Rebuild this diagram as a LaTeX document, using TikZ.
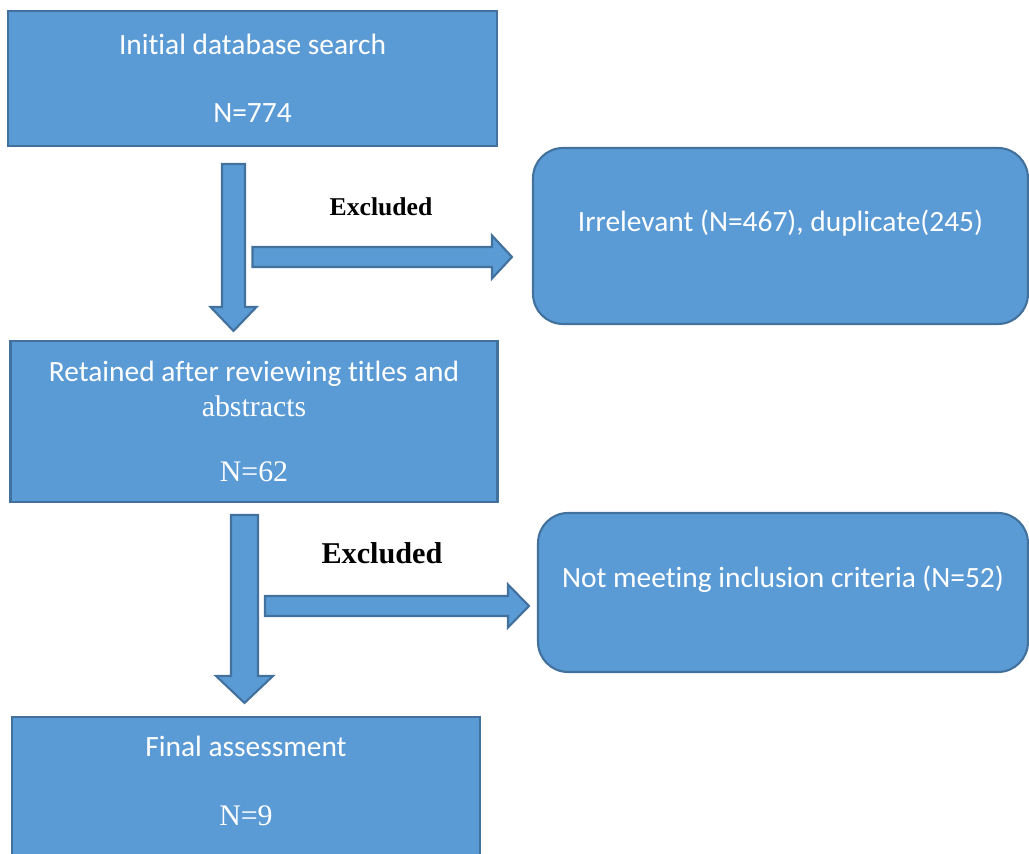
\documentclass[tikz,border=0pt]{standalone}
\usepackage{fontspec}
\setmainfont{Liberation Serif}
\newfontfamily\calibfont[Ligatures=NoCommon]{Carlito}
\newcommand{\serifpart}{\rmfamily\fontsize{17}{20}\selectfont}
\usetikzlibrary{calc}
\definecolor{boxfill}{RGB}{91,155,213}
\definecolor{boxline}{RGB}{65,113,156}

\begin{document}
\begin{tikzpicture}[
    x=0.02cm, y=-0.02cm,
    every node/.style={font=\calibfont\fontsize{16.75}{20}\selectfont},
    stagebox/.style={rectangle, draw=boxline, fill=boxfill, line width=1.2pt,
        text=white, align=center, inner sep=0pt},
    excludebox/.style={stagebox, rounded corners=0.6cm,
        text height=0.44cm, text depth=0.62cm},
    blockarrow/.style={draw=boxline, fill=boxfill, line width=1.2pt},
    exlabel/.style={font=\rmfamily\bfseries\fontsize{14.6}{17}\selectfont},
]
\useasboundingbox (0,0) rectangle (1029,854);

% === STAGES (left column) ===
\node[stagebox, minimum width=9.78cm, minimum height=2.7cm] (init) at (252.5,78.5)
    {Initial database search\\[0.66cm]N=774};
\node[stagebox, minimum width=9.74cm, minimum height=3.22cm] (ret) at (254,421.5)
    {Retained after reviewing titles and\\{\serifpart abstracts}\\[0.6cm]{\serifpart N=62}};
\node[stagebox, minimum width=9.36cm, minimum height=2.9cm, text depth=0.35cm] (final) at (246,789.5)
    {Final assessment\\[0.66cm]{\serifpart N=9}};

% === EXCLUSIONS (right column) ===
\node[excludebox, minimum width=9.9cm, minimum height=3.52cm] (irr) at (780.5,236)
    {Irrelevant (N=467), duplicate(245)};
\node[excludebox, minimum width=9.8cm, minimum height=3.18cm] (notmeet) at (783,592.5)
    {Not meeting inclusion criteria (N=52)};

% === BLOCK ARROWS ===
\coordinate (d1s) at ($(init.south)+(-19,17)$);
\coordinate (d1e) at ($(ret.north)+(-20.5,-9)$);
\coordinate (h1e) at ($(irr.west)+(-20,21)$);
\coordinate (h1s) at (init.south |- h1e);
\coordinate (d2s) at ($(ret.south)+(-9.5,12)$);
\coordinate (d2e) at ($(final.north)+(-1.5,-13)$);
\coordinate (h2e) at ($(notmeet.west)+(-8,13.5)$);
\coordinate (h2s) at ($(ret.south |- h2e)+(11,0)$);

% first screening
\draw[blockarrow] ($(d1s)+(-11.5,0)$) -- ($(d1s)+(11.5,0)$) -- ($(d1e)+(11.5,-24)$)
    -- ++(11.5,0) -- (d1e) -- ++(-23,-24) -- ++(11.5,0) -- cycle;
\draw[blockarrow] ($(h1s)+(0,-10)$) -- ($(h1e)+(-20,-10)$) -- ++(0,-11.5)
    -- (h1e) -- ++(-20,21.5) -- ++(0,-11.5) -- ($(h1s)+(0,10)$) -- cycle;

% second screening
\draw[blockarrow] ($(d2s)+(-13.5,0)$) -- ($(d2s)+(13.5,0)$) -- ($(d2e)+(13.5,-27)$)
    -- ++(15,0) -- (d2e) -- ++(-28.5,-27) -- ++(15,0) -- cycle;
\draw[blockarrow] ($(h2s)+(0,-10)$) -- ($(h2e)+(-21,-10)$) -- ++(0,-11.5)
    -- (h2e) -- ++(-21,21.5) -- ++(0,-11.5) -- ($(h2s)+(0,10)$) -- cycle;

% === LABELS ===
\node[exlabel] (ex1) at (381,207) {Excluded};
\node[exlabel, font=\rmfamily\bfseries\fontsize{17.2}{20}\selectfont] (ex2) at (382,553) {Excluded};

\end{tikzpicture}
\end{document}
